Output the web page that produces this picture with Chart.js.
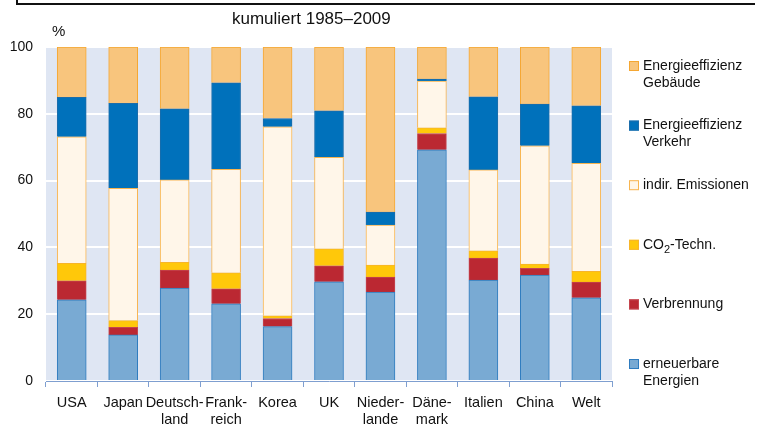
<!DOCTYPE html>
<html>
<head>
<meta charset="utf-8">
<script src="https://cdn.jsdelivr.net/npm/chart.js@4/dist/chart.umd.min.js"></script>
<style>
  body { margin: 0; background: #fff; }
  #wrap { position: relative; width: 763px; height: 425px; }
  #frame { position: absolute; left: 16px; top: 0; width: 737px; height: 3px;
           border-left: 2px solid #111; border-bottom: 2px solid #111; }
</style>
</head>
<body>
<div id="wrap">
  <div id="frame"></div>
  <canvas id="chart"></canvas>
</div>
<script>
const countries = [
  'USA', 'Japan', ['Deutsch-', 'land'], ['Frank-', 'reich'], 'Korea', 'UK',
  ['Nieder-', 'lande'], ['Däne-', 'mark'], 'Italien', 'China', 'Welt'
];

// shares in %, bottom to top
const erneuerbare   = [24.3, 13.8, 27.8, 23.1, 16.3, 29.7, 26.6, 69.2, 30.2, 31.7, 24.9];
const verbrennung   = [ 5.7,  2.3,  5.4,  4.5,  2.4,  4.8,  4.5,  4.9,  6.6,  2.0,  4.7];
const co2Techn      = [ 5.2,  2.0,  2.3,  4.8,  0.8,  5.1,  3.6,  1.7,  2.2,  1.3,  3.2];
const indirEmiss    = [37.9, 39.6, 24.7, 31.0, 56.6, 27.4, 12.0, 14.0, 24.2, 35.4, 32.4];
const effVerkehr    = [11.8, 25.4, 21.3, 25.9,  2.5, 13.9,  3.9,  0.6, 21.9, 12.5, 17.2];
const effGebaeude   = [15.1, 16.9, 18.5, 10.7, 21.4, 19.1, 49.4,  9.6, 14.9, 17.1, 17.6];

const yTicks = [0, 20, 40, 60, 80, 100];
const FONT = '"Liberation Sans", Arial, sans-serif';

// light blue plot background
const plotBg = {
  id: 'plotBg',
  beforeDraw(chart) {
    const {ctx, chartArea: a} = chart;
    ctx.save();
    ctx.fillStyle = '#dfe6f3';
    ctx.fillRect(a.left, a.top, a.right - a.left, a.bottom - a.top);
    ctx.restore();
  }
};

// draws "CO_2-Techn." with a subscript 2
function drawRich(ctx, text, x, y) {
  const parts = text.split(/_(\d)/);
  parts.forEach((p, i) => {
    if (i % 2 === 1) {
      ctx.font = '11px ' + FONT;
      ctx.fillText(p, x, y + 5);
    } else {
      ctx.font = '14px ' + FONT;
      ctx.fillText(p, x, y);
    }
    x += ctx.measureText(p).width;
  });
}

// texts + legend on the right
const extras = {
  id: 'extras',
  afterDraw(chart) {
    const ctx = chart.ctx;
    ctx.save();
    ctx.fillStyle = '#111';
    ctx.textBaseline = 'middle';
    ctx.font = '17px ' + FONT;
    ctx.fillText('kumuliert 1985–2009', 232, 19);
    ctx.font = '15px ' + FONT;
    ctx.fillText('%', 52, 32);

    const ds = chart.data.datasets.slice().reverse();
    ds.forEach((d, i) => {
      const y = 66 + i * 59.6;
      ctx.fillStyle = d.backgroundColor;
      ctx.fillRect(629, y - 5, 10, 10);
      ctx.strokeStyle = d.borderColor;
      ctx.lineWidth = 1;
      ctx.strokeRect(629.5, y - 4.5, 9, 9);
      ctx.fillStyle = '#111';
      d.legend.forEach((line, j) => drawRich(ctx, line, 643, y + j * 17));
    });
    ctx.restore();
  }
};

new Chart(document.getElementById('chart'), {
  type: 'bar',
  data: {
    labels: countries,
    datasets: [
      {label: 'erneuerbare Energien', legend: ['erneuerbare', 'Energien'], data: erneuerbare,
       backgroundColor: '#79aad3', borderColor: '#2f7cbf'},
      {label: 'Verbrennung', legend: ['Verbrennung'], data: verbrennung,
       backgroundColor: '#bb2832', borderColor: '#c4454e'},
      {label: 'CO2-Techn.', legend: ['CO_2-Techn.'], data: co2Techn,
       backgroundColor: '#ffc80a', borderColor: '#f7b52a'},
      {label: 'indir. Emissionen', legend: ['indir. Emissionen'], data: indirEmiss,
       backgroundColor: '#fff6e9', borderColor: '#f8b550'},
      {label: 'Energieeffizienz Verkehr', legend: ['Energieeffizienz', 'Verkehr'], data: effVerkehr,
       backgroundColor: '#0071bb', borderColor: '#1c6daa'},
      {label: 'Energieeffizienz Gebäude', legend: ['Energieeffizienz', 'Gebäude'], data: effGebaeude,
       backgroundColor: '#f8c57d', borderColor: '#f5a733'}
    ].map(d => Object.assign(d, {borderWidth: 1, barThickness: 29}))
  },
  options: {
    responsive: true,
    maintainAspectRatio: false,
    animation: false,
    layout: {padding: {top: 47, right: 151, bottom: 0, left: 0}},
    plugins: {legend: {display: false}, tooltip: {enabled: false}},
    scales: {
      x: {
        stacked: true,
        afterFit(scale) { scale.height = 44; },
        grid: {drawOnChartArea: false, color: '#7f9fd0', tickLength: 6},
        border: {color: '#7f9fd0'},
        ticks: {color: '#111', font: {family: FONT, size: 14.5}, padding: 7, maxRotation: 0, autoSkip: false}
      },
      y: {
        stacked: true,
        min: 0, max: 100,
        afterFit(scale) { scale.width = 46; },
        afterBuildTicks(scale) { scale.ticks = yTicks.map(v => ({value: v})); },
        grid: {color: '#ffffff', lineWidth: 2, drawTicks: false},
        border: {display: false},
        ticks: {color: '#111', font: {family: FONT, size: 14}, padding: 13}
      }
    }
  },
  plugins: [plotBg, extras]
});
</script>
</body>
</html>
